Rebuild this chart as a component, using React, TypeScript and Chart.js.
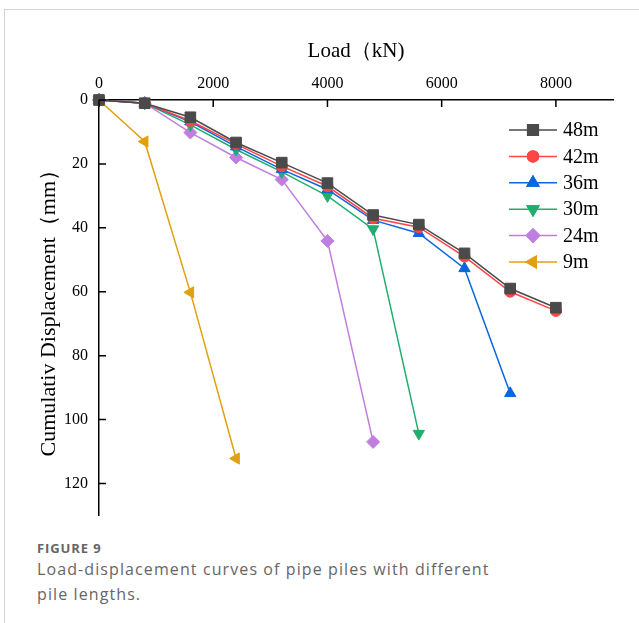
import React, { useEffect, useRef } from 'react';
import { Chart, registerables } from 'chart.js';
import { drawPoint } from 'chart.js/helpers';

Chart.register(...registerables);

const loads = [0, 800, 1600, 2400, 3200, 4000, 4800, 5600, 6400, 7200, 8000];
const disp48 = [0, 1, 5.4, 13.3, 19.6, 26, 36, 39, 48, 59, 65];
const disp42 = [0, 1, 6.5, 13.8, 20.7, 27, 37, 39.8, 49, 60, 66];
const disp36 = [0, 1, 6.8, 14.6, 21.7, 28, 37.6, 41.7, 52.7, 91.8];
const disp30 = [0, 1, 7.8, 15.5, 22.5, 30, 40.4, 104.4];
const disp24 = [0, 1, 10.2, 18, 24.9, 44.1, 107];
const disp9 = [0, 13, 60.2, 112.2];

const xTickValues = [0, 2000, 4000, 6000, 8000];
const yTickValues = [0, 20, 40, 60, 80, 100, 120];

const seriesNames = ['48m', '42m', '36m', '30m', '24m', '9m'];
const seriesValues = [disp48, disp42, disp36, disp30, disp24, disp9];
const xTitle = 'Load（kN)';
const yTitle = 'Cumulativ Displacement（mm）';

const colors = ['#4a4a4a', '#ff4444', '#0a66e0', '#1fae6e', '#c07ee0', '#e0a010'];
const styles: any[] = ['rect', 'circle', 'triangle', 'triangle', 'rectRot', 'triangle'];
const rotations = [0, 0, 0, 180, 0, 270];
const radii = [7.5, 5.5, 6.5, 6.5, 6.5, 6.5];

const SERIF = '"Liberation Serif", "Times New Roman", serif';

const extrasPlugin = {
  id: 'extras',
  afterDatasetsDraw(chart: any) {
    const ctx = chart.ctx;
    const xs = chart.scales.x;
    const ys = chart.scales.y;
    const area = chart.chartArea;
    ctx.save();
    ctx.strokeStyle = '#000';
    ctx.lineWidth = 1.5;
    ctx.beginPath();
    xs.ticks.forEach((t: any) => {
      const px = xs.getPixelForValue(t.value);
      ctx.moveTo(px, area.top);
      ctx.lineTo(px, area.top + 7);
    });
    ys.ticks.forEach((t: any) => {
      const py = ys.getPixelForValue(t.value);
      ctx.moveTo(area.left, py);
      ctx.lineTo(area.left + 7, py);
    });
    ctx.stroke();

    // legend
    const lx0 = 509, lx1 = 557, mx = 533, tx = 563;
    seriesNames.forEach((name, i) => {
      const y = 130 + i * 26.4;
      ctx.strokeStyle = colors[i];
      ctx.lineWidth = 1.5;
      ctx.beginPath();
      ctx.moveTo(lx0, y);
      ctx.lineTo(lx1, y);
      ctx.stroke();
      ctx.fillStyle = colors[i];
      drawPoint(ctx, { pointStyle: styles[i], radius: radii[i], rotation: rotations[i], borderWidth: 1 } as any, mx, y);
      ctx.fill();
      ctx.stroke();
      ctx.fillStyle = '#000';
      ctx.font = `20px ${SERIF}`;
      ctx.textBaseline = 'middle';
      ctx.textAlign = 'left';
      ctx.fillText(name, tx, y + 1);
    });
    ctx.restore();
  },
};

export default function App() {
  const ref = useRef<HTMLCanvasElement>(null);
  useEffect(() => {
    if (!ref.current) return;
    const datasets = seriesValues.map((vals, i) => ({
      label: seriesNames[i],
      data: vals.map((v, j) => ({ x: loads[j], y: v })),
      borderColor: colors[i],
      backgroundColor: colors[i],
      borderWidth: 1.5,
      pointStyle: styles[i],
      pointRotation: rotations[i],
      pointRadius: radii[i],
      pointBorderWidth: 1,
      pointBackgroundColor: colors[i],
      pointBorderColor: colors[i],
      clip: false as any,
      tension: 0,
    }));
    const chart = new Chart(ref.current, {
      type: 'line',
      data: { datasets },
      plugins: [extrasPlugin],
      options: {
        animation: false,
        responsive: false,
        devicePixelRatio: 1,
        layout: { padding: { left: 36, top: 39, right: 26, bottom: 0 } },
        plugins: { legend: { display: false }, tooltip: { enabled: false } },
        scales: {
          x: {
            type: 'linear',
            position: 'top',
            min: 0,
            max: 9000,
            afterBuildTicks: (s: any) => { s.ticks = xTickValues.map((v) => ({ value: v })); },
            ticks: {
              callback: (v: any) => String(v),
              font: { family: SERIF, size: 16 },
              color: '#000',
              padding: 7,
              maxRotation: 0,
              autoSkip: false,
            },
            grid: { display: true, drawOnChartArea: false, drawTicks: false },
            border: { display: true, color: '#000', width: 1.5 },
            title: { display: true, text: xTitle, font: { family: SERIF, size: 21 }, color: '#000', padding: 0 },
            afterFit: (s: any) => { s.height = 61; },
          },
          y: {
            type: 'linear',
            reverse: true,
            min: 0,
            max: 130,
            afterBuildTicks: (s: any) => { s.ticks = yTickValues.map((v) => ({ value: v })); },
            ticks: {
              callback: (v: any) => String(v),
              font: { family: SERIF, size: 16 },
              color: '#000',
              padding: 11,
              autoSkip: false,
            },
            grid: { display: true, drawOnChartArea: false, drawTicks: false },
            border: { display: true, color: '#000', width: 1.5 },
            title: { display: true, text: yTitle, font: { family: SERIF, size: 22 }, color: '#000', padding: 0 },
            afterFit: (s: any) => { s.width = 63; },
          },
        },
      } as any,
    });
    return () => chart.destroy();
  }, []);

  return (
    <div style={{ position: 'fixed', left: 0, top: 0, width: 639, height: 623, background: '#fff', overflow: 'hidden' }}>
      <div style={{ position: 'absolute', left: 4, top: 9, right: -10, bottom: -10, borderLeft: '1px solid #d4d4d4', borderTop: '1px solid #d4d4d4' }} />
      <canvas ref={ref} width={639} height={536} style={{ position: 'absolute', left: 0, top: 0, width: 639, height: 536 }} />
      <div style={{ position: 'absolute', left: 37, top: 539, width: 560, fontFamily: '"Open Sans", "Noto Sans", sans-serif', color: '#666' }}>
        <div style={{ fontSize: 13, fontWeight: 700, lineHeight: '18px', letterSpacing: '0.9px' }}>FIGURE 9</div>
        <div style={{ fontSize: 16, lineHeight: '25px', letterSpacing: '1.1px' }}>
          Load-displacement curves of pipe piles with different
          <br />
          pile lengths.
        </div>
      </div>
    </div>
  );
}
